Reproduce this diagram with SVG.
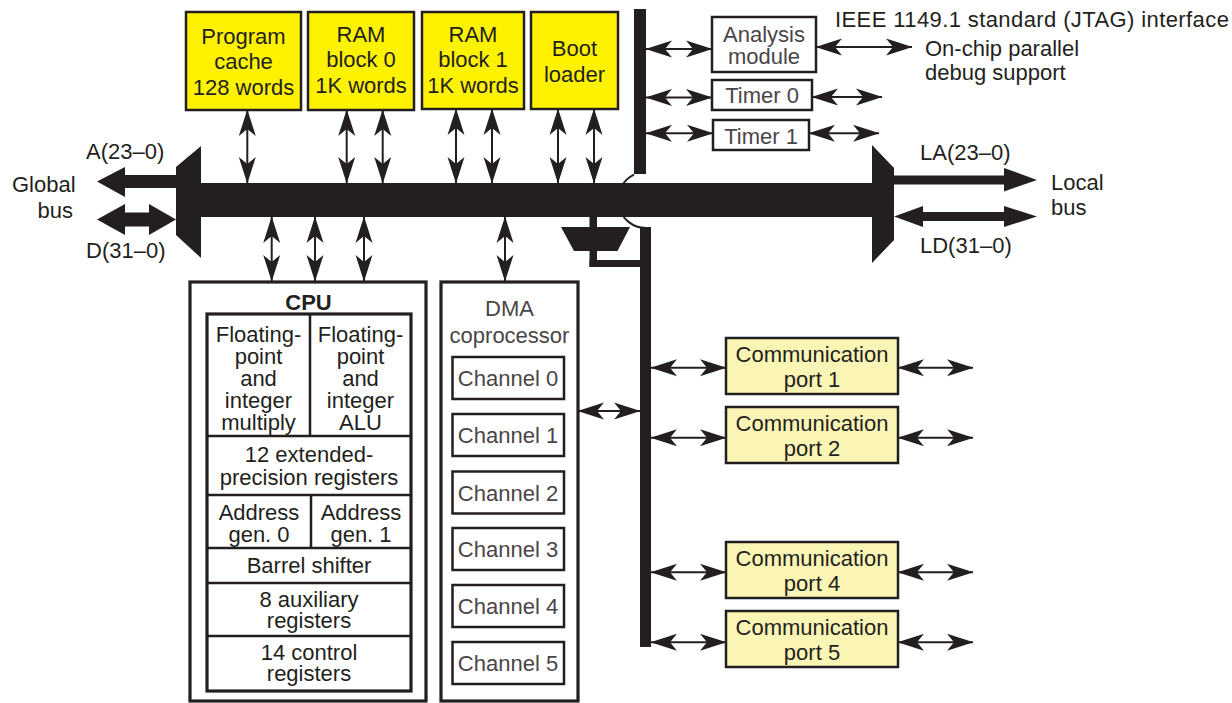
<svg xmlns="http://www.w3.org/2000/svg" width="1232" height="703" viewBox="0 0 1232 703">
<defs>
<marker id="ah" markerUnits="userSpaceOnUse" markerWidth="28" markerHeight="18" viewBox="-27 -9 28 18" refX="0" refY="0" orient="auto-start-reverse" overflow="visible">
<path d="M0.5,0 L-26,-8.5 L-19,0 L-26,8.5 Z" fill="#231f20"/>
</marker>
<style>
text{font-family:"Liberation Sans",Arial,Helvetica,sans-serif;font-size:22px;fill:#231f20;text-anchor:middle}
.l{text-anchor:start}
.g{fill:#4a4546}
.b{font-weight:bold}
.yb{fill:#fff200;stroke:#231f20;stroke-width:2.5}
.pb{fill:#fbf5b5;stroke:#231f20;stroke-width:2.5}
.wb{fill:#fff;stroke:#231f20;stroke-width:2.5}
.tb{fill:#fff;stroke:#231f20;stroke-width:3.2}
.dv{stroke:#231f20;stroke-width:2.5;fill:none}
.ln{stroke:#231f20;stroke-width:2;fill:none;marker-start:url(#ah);marker-end:url(#ah)}
.blk{fill:#231f20}
</style>
</defs>
<rect width="1232" height="703" fill="#fff"/>

<g id="buses">
<path d="M634,174.7 A28,28 0 0 0 646,228" fill="none" stroke="#231f20" stroke-width="2"/>
<rect class="blk" x="634" y="9" width="12" height="165"/>
<rect class="blk" x="200" y="183" width="674" height="34"/>
<polygon class="blk" points="176,167 201,146 201,258 176,235"/>
<polygon class="blk" points="872,145 894,168 894,240 872,263"/>
<rect class="blk" x="640" y="227" width="11" height="420"/>
<rect class="blk" x="589.5" y="216" width="7.5" height="12"/>
<polygon class="blk" points="561,227 630,227 617.5,251 574,251"/>
<rect class="blk" x="589.5" y="250" width="7.5" height="17"/>
<rect class="blk" x="589.5" y="260" width="52" height="7"/>
<polygon class="blk" points="97,181.5 125,167 125,175 176,175 176,188 125,188 125,197"/>
<polygon class="blk" points="97,219.5 125,204 125,212.5 149,212.5 149,204 176,219.5 149,235 149,226.5 125,226.5 125,235"/>
<polygon class="blk" points="894,175.5 1004,175.5 1004,168 1037,180 1004,191.5 1004,184.5 894,184.5"/>
<polygon class="blk" points="894,216.5 923,206 923,212 1004,212 1004,206 1037,216.5 1004,227 1004,221 923,221 923,227"/>
</g>

<g id="bus-labels">
<text class="l" x="86" y="159">A(23–0)</text>
<text class="l" x="86" y="258">D(31–0)</text>
<text class="l" x="12" y="192">Global</text>
<text class="l" x="37.5" y="218">bus</text>
<text class="l" x="920" y="160">LA(23–0)</text>
<text class="l" x="920" y="253">LD(31–0)</text>
<text class="l" x="1051" y="190">Local</text>
<text class="l" x="1051" y="215">bus</text>
<text class="l" x="835" y="27" letter-spacing="0.4">IEEE 1149.1 standard (JTAG) interface</text>
<text class="l" x="925" y="56">On-chip parallel</text>
<text class="l" x="925" y="80">debug support</text>
</g>

<g id="connectors">
<line class="ln" x1="247.3" y1="110" x2="247.3" y2="183"/>
<line class="ln" x1="346.7" y1="110" x2="346.7" y2="183"/>
<line class="ln" x1="382.7" y1="110" x2="382.7" y2="183"/>
<line class="ln" x1="456" y1="109" x2="456" y2="183"/>
<line class="ln" x1="492" y1="109" x2="492" y2="183"/>
<line class="ln" x1="558" y1="109" x2="558" y2="183"/>
<line class="ln" x1="594" y1="109" x2="594" y2="183"/>
<line class="ln" x1="271.7" y1="217" x2="271.7" y2="281"/>
<line class="ln" x1="315" y1="217" x2="315" y2="281"/>
<line class="ln" x1="364" y1="217" x2="364" y2="281"/>
<line class="ln" x1="505" y1="217" x2="505" y2="281"/>
<line class="ln" x1="646" y1="49" x2="712" y2="49"/>
<line class="ln" x1="646" y1="97.5" x2="712" y2="97.5"/>
<line class="ln" x1="646" y1="133.3" x2="713" y2="133.3"/>
<line class="ln" x1="816" y1="47" x2="912" y2="47"/>
<line class="ln" x1="812" y1="97" x2="882" y2="97"/>
<line class="ln" x1="809" y1="133.3" x2="879" y2="133.3"/>
<line class="ln" x1="578" y1="411" x2="640" y2="411"/>
<line class="ln" x1="651" y1="367.7" x2="726" y2="367.7"/>
<line class="ln" x1="651" y1="437.7" x2="726" y2="437.7"/>
<line class="ln" x1="651" y1="572.3" x2="726" y2="572.3"/>
<line class="ln" x1="651" y1="642.3" x2="726" y2="642.3"/>
<line class="ln" x1="898" y1="367.7" x2="973" y2="367.7"/>
<line class="ln" x1="898" y1="437.7" x2="973" y2="437.7"/>
<line class="ln" x1="898" y1="572.3" x2="973" y2="572.3"/>
<line class="ln" x1="898" y1="642.3" x2="973" y2="642.3"/>
</g>

<g id="program-cache">
<rect class="yb" x="186" y="12" width="115" height="98"/>
<text x="243.5" y="43.5">Program</text>
<text x="243.5" y="68.5">cache</text>
<text x="243.5" y="94.5">128 words</text>
</g>
<g id="ram-block-0">
<rect class="yb" x="308" y="12" width="106" height="98"/>
<text x="361" y="41.5">RAM</text>
<text x="361" y="67">block 0</text>
<text x="361" y="93">1K words</text>
</g>
<g id="ram-block-1">
<rect class="yb" x="422" y="12" width="102" height="97"/>
<text x="473" y="41.5">RAM</text>
<text x="473" y="67">block 1</text>
<text x="473" y="93">1K words</text>
</g>
<g id="boot-loader">
<rect class="yb" x="531" y="12" width="87" height="97"/>
<text x="574.5" y="56">Boot</text>
<text x="574.5" y="81.5">loader</text>
</g>

<g id="analysis-module">
<rect class="wb" x="712" y="17" width="104" height="55"/>
<text class="g" x="764" y="42">Analysis</text>
<text class="g" x="764" y="63.5">module</text>
</g>
<g id="timer-0">
<rect class="wb" x="712" y="80" width="100" height="30"/>
<text class="g" x="762" y="103">Timer 0</text>
</g>
<g id="timer-1">
<rect class="wb" x="713" y="120" width="96" height="30"/>
<text class="g" x="761" y="143.5">Timer 1</text>
</g>

<g id="cpu">
<rect class="tb" x="190" y="282" width="236" height="419"/>
<text class="b" x="308.5" y="310">CPU</text>
<rect class="tb" x="207" y="314" width="204" height="377" stroke-width="3.5"/>
<line class="dv" x1="310" y1="314" x2="310" y2="436"/>
<line class="dv" x1="207" y1="436" x2="411" y2="436"/>
<line class="dv" x1="207" y1="495" x2="411" y2="495"/>
<line class="dv" x1="311" y1="495" x2="311" y2="548"/>
<line class="dv" x1="207" y1="548" x2="411" y2="548"/>
<line class="dv" x1="207" y1="583" x2="411" y2="583"/>
<line class="dv" x1="207" y1="636" x2="411" y2="636"/>
<text x="258.5" y="342">Floating-</text>
<text x="258.5" y="364">point</text>
<text x="258.5" y="386">and</text>
<text x="258.5" y="408">integer</text>
<text x="258.5" y="430">multiply</text>
<text x="360.5" y="342">Floating-</text>
<text x="360.5" y="364">point</text>
<text x="360.5" y="386">and</text>
<text x="360.5" y="408">integer</text>
<text x="360.5" y="430">ALU</text>
<text x="309" y="462">12 extended-</text>
<text x="309" y="485">precision registers</text>
<text x="259" y="520">Address</text>
<text x="259" y="542">gen. 0</text>
<text x="361" y="520">Address</text>
<text x="361" y="542">gen. 1</text>
<text x="309" y="573">Barrel shifter</text>
<text x="309" y="607">8 auxiliary</text>
<text x="309" y="628">registers</text>
<text x="309" y="660">14 control</text>
<text x="309" y="681">registers</text>
</g>

<g id="dma-coprocessor">
<rect class="tb" x="441" y="282" width="137" height="419"/>
<text class="g" x="509.5" y="316">DMA</text>
<text class="g" x="509.5" y="343">coprocessor</text>
</g>
<g id="channel-0"><rect class="wb" x="452.5" y="357" width="111.5" height="42" stroke-width="2"/><text class="g" x="508" y="386">Channel 0</text></g>
<g id="channel-1"><rect class="wb" x="452.5" y="414" width="111.5" height="42" stroke-width="2"/><text class="g" x="508" y="443">Channel 1</text></g>
<g id="channel-2"><rect class="wb" x="452.5" y="471.5" width="111.5" height="42" stroke-width="2"/><text class="g" x="508" y="500.5">Channel 2</text></g>
<g id="channel-3"><rect class="wb" x="452.5" y="528" width="111.5" height="42" stroke-width="2"/><text class="g" x="508" y="557">Channel 3</text></g>
<g id="channel-4"><rect class="wb" x="452.5" y="585" width="111.5" height="42" stroke-width="2"/><text class="g" x="508" y="614">Channel 4</text></g>
<g id="channel-5"><rect class="wb" x="452.5" y="642" width="111.5" height="42" stroke-width="2"/><text class="g" x="508" y="671">Channel 5</text></g>

<g id="comm-port-1">
<rect class="pb" x="726" y="338" width="172" height="56"/>
<text x="812" y="361.5">Communication</text>
<text x="812" y="386.5">port 1</text>
</g>
<g id="comm-port-2">
<rect class="pb" x="726" y="407" width="172" height="56"/>
<text x="812" y="430.5">Communication</text>
<text x="812" y="455.5">port 2</text>
</g>
<g id="comm-port-4">
<rect class="pb" x="726" y="542" width="172" height="56"/>
<text x="812" y="565.5">Communication</text>
<text x="812" y="590.5">port 4</text>
</g>
<g id="comm-port-5">
<rect class="pb" x="726" y="611" width="172" height="56"/>
<text x="812" y="634.5">Communication</text>
<text x="812" y="659.5">port 5</text>
</g>
</svg>
